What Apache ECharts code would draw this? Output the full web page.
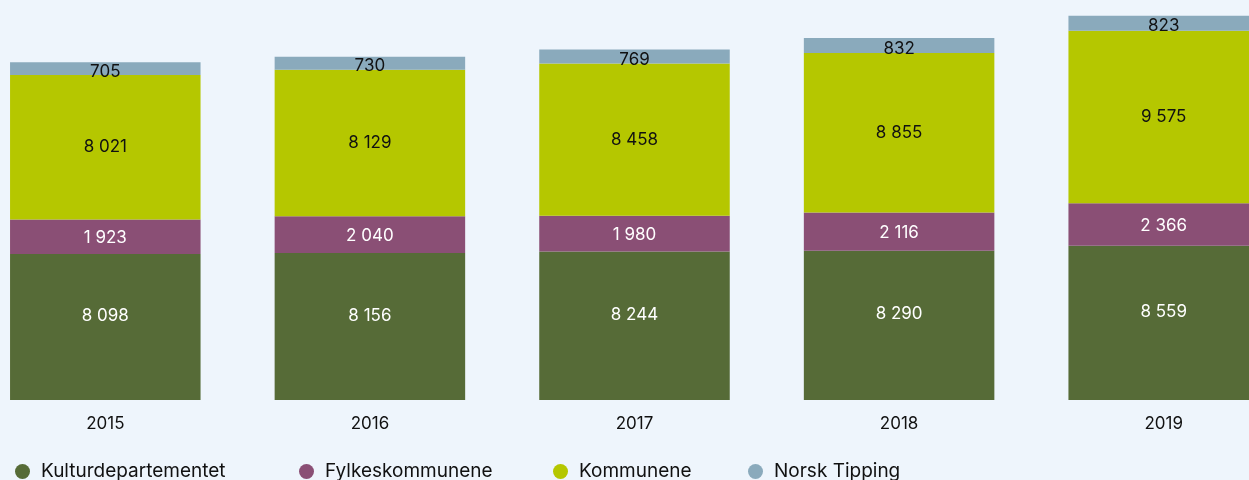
<!DOCTYPE html>
<html>
<head>
<meta charset="utf-8">
<script src="https://cdn.jsdelivr.net/npm/echarts@6/dist/echarts.min.js"></script>
<style>
  html, body { margin: 0; padding: 0; background: #eef5fc; overflow: hidden; width: 1249px; height: 480px; }
  #chart { width: 1323px; height: 480px; margin-left: -27px; }
</style>
</head>
<body>
<div id="chart"></div>
<script>
// år og tall (mill. kr)
const years = ['2015', '2016', '2017', '2018', '2019']
const kulturdep = [8098, 8156, 8244, 8290, 8559]
const fylke = [1923, 2040, 1980, 2116, 2366]
const kommune = [8021, 8129, 8458, 8855, 9575]
const tipping = [705, 730, 769, 832, 823]

const names = ['Kulturdepartementet', 'Fylkeskommunene', 'Kommunene', 'Norsk Tipping']
const colors = ['#566b37', '#8a4f75', '#b5c700', '#8aaabc']
const labelColors = ['#ffffff', '#ffffff', '#111111', '#111111']
const labelOffsets = [[0, -11], [0, 1], [0, 0], [0, 3]]
// div is shifted 27px left, so legend positions are +27
const legendLeft = [37, 321, 575, 770]

const fmt = v => String(v).replace(/\B(?=(\d{3})+(?!\d))/g, ' ')

const font = 'Inter, "Noto Sans", sans-serif'

function makeSeries(name, data, i) {
  return {
    name: name,
    type: 'bar',
    stack: 'total',
    data: data,
    barWidth: '72%',
    itemStyle: { color: colors[i] },
    label: {
      show: true,
      position: 'inside',
      color: labelColors[i],
      fontFamily: font,
      fontSize: 17,
      offset: labelOffsets[i],
      formatter: p => fmt(p.value)
    },
    emphasis: { disabled: true }
  }
}

let chart = echarts.init(document.getElementById('chart'))
chart.setOption({
  backgroundColor: '#eef5fc',
  animation: false,
  grid: { left: 0, right: 0, top: 0, bottom: 80 },
  legend: names.map((n, i) => ({
    data: [n],
    left: legendLeft[i],
    top: 457,
    icon: 'circle',
    itemWidth: 15,
    itemHeight: 15,
    itemGap: 0,
    selectedMode: false,
    textStyle: { fontFamily: font, fontSize: 19, color: '#111', padding: [0, 0, 0, 6] }
  })),
  xAxis: {
    type: 'category',
    data: years,
    axisLine: { show: false },
    axisTick: { show: false },
    axisLabel: { color: '#111', fontFamily: font, fontSize: 17, margin: 15 }
  },
  yAxis: {
    type: 'value',
    min: 0,
    max: 22200,
    show: false,
    splitLine: { show: false }
  },
  series: [
    makeSeries(names[0], kulturdep, 0),
    makeSeries(names[1], fylke, 1),
    makeSeries(names[2], kommune, 2),
    makeSeries(names[3], tipping, 3)
  ]
})
</script>
</body>
</html>
